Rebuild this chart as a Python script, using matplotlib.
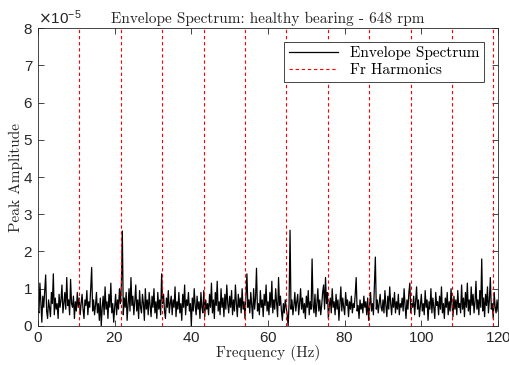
import numpy as np
import matplotlib
matplotlib.use("Agg")
import matplotlib.pyplot as plt

# envelope spectrum (units of 1e-5), 0.25 Hz steps from 0 Hz
df = 0.25
amp_rows = [
    [0.45,0.35,1.15,0.6,0.1,0.8,0.5,0.95,1.37,0.4,0.2,0.7,0.5,0.25,0.9,0.6,1.4,0.3,0.75,0.45],
    [0.6,0.2,0.85,0.5,0.7,1.1,0.35,0.6,0.9,0.45,1.3,0.55,0.7,0.3,1.25,0.6,0.5,0.8,0.2,0.65],
    [0.4,0.9,0.5,0.75,0.3,0.6,0.85,0.45,0.2,0.7,0.55,0.95,0.3,0.65,0.5,1.0,1.57,0.4,0.7,0.3],
    [0.55,0.9,0.35,0.6,0.15,0.75,0.0,0.5,0.8,0.3,1.05,0.45,0.65,0.2,0.85,0.5,1.15,0.35,0.6,0.1],
    [0.5,0.85,0.3,0.7,0.45,1.0,0.6,1.1,2.55,0.3,0.75,0.5,0.9,0.15,0.6,1.0,0.4,1.3,0.55,0.8],
    [0.3,0.65,1.1,0.4,0.7,0.2,0.95,0.5,0.35,0.85,0.6,0.15,1.0,0.45,0.7,0.3,0.9,0.55,0.25,0.8],
    [0.5,1.0,0.35,0.65,0.2,0.9,0.45,0.7,0.3,1.4,0.6,0.85,0.4,0.2,0.75,0.5,0.95,0.35,0.6,0.8],
    [0.3,0.7,0.5,1.05,0.25,0.65,0.45,0.9,0.35,0.6,0.15,0.85,0.5,1.1,0.3,0.7,0.55,0.9,0.4,0.6],
    [0.0,0.75,0.4,1.0,0.55,0.3,0.8,0.45,0.65,0.2,0.9,0.5,0.35,0.95,0.25,0.7,0.45,0.6,0.3,0.85],
    [0.5,1.15,0.35,0.7,0.2,0.9,0.55,1.2,0.4,0.65,0.3,1.0,0.5,0.75,0.25,0.85,0.45,1.1,0.6,0.35],
    [0.8,0.5,0.95,0.3,0.7,0.4,1.1,0.6,0.25,0.85,0.5,0.75,0.35,1.0,0.45,0.65,0.2,0.8,1.4,0.5],
    [0.7,0.35,0.9,0.55,0.2,1.0,0.45,0.75,1.55,0.4,0.6,0.3,0.95,0.5,0.7,0.25,0.85,0.55,1.1,0.4],
    [0.65,0.3,0.9,0.5,1.2,0.35,0.7,0.45,1.0,0.6,0.25,1.3,0.55,0.8,0.4,0.15,0.6,0.35,0.7,0.5],
    [0.3,0.0,0.6,2.57,0.45,0.7,0.3,0.55,0.9,0.4,0.65,0.85,0.3,0.6,1.0,0.45,0.75,0.35,0.6,0.2],
    [0.8,0.5,0.95,0.3,0.65,0.45,1.8,0.55,0.35,0.85,0.25,0.6,1.0,0.4,0.7,0.3,0.55,0.9,1.1,0.45],
    [1.3,0.6,0.9,0.2,0.55,0.75,0.35,1.0,0.5,0.65,0.3,0.85,0.45,0.7,0.15,0.6,1.05,0.4,0.75,0.5],
    [0.3,0.9,0.55,0.7,0.25,0.65,0.45,0.8,0.35,0.6,0.5,0.85,1.3,0.4,0.55,0.2,0.7,0.45,0.6,0.35],
    [0.8,0.5,0.65,0.3,0.75,0.15,0.55,0.9,0.4,0.6,0.3,1.1,1.85,0.45,0.7,0.35,0.6,0.85,0.5,0.4],
    [0.7,0.35,0.95,0.55,0.25,0.8,0.45,1.05,0.6,0.3,0.75,0.5,0.9,0.35,0.65,0.45,0.85,0.3,0.6,0.5],
    [0.75,0.4,1.0,0.55,0.2,0.7,0.45,0.9,1.15,0.35,0.6,0.5,0.8,0.3,0.65,1.05,0.45,0.7,0.25,0.55],
    [0.85,0.4,0.6,0.3,0.95,0.5,0.7,0.15,0.65,0.45,1.0,0.35,0.75,0.5,0.2,0.9,0.55,0.65,0.3,0.8],
    [0.45,1.05,0.35,0.6,0.2,0.75,0.5,0.9,0.3,0.65,0.4,1.0,0.55,0.25,0.8,0.45,0.7,0.3,0.95,0.5],
    [0.6,0.35,1.1,0.45,0.75,0.25,0.9,0.5,1.15,0.4,0.7,0.3,1.05,0.55,0.85,0.35,0.65,1.2,0.45,0.7],
    [0.3,0.95,0.5,1.8,0.4,0.75,0.25,0.85,0.55,1.05,0.35,0.7,1.3,0.45,0.6,0.2,0.9,0.5,0.35,0.7],
    [0.4],
]
rpm = 648
harmonics = [1, 2, 3, 4, 5, 6, 7, 8, 9, 10, 11]

amp = np.concatenate([np.array(r) for r in amp_rows]) * 1e-5
freq = np.arange(len(amp)) * df
fr = rpm / 60.0

plt.rcParams['axes.formatter.use_mathtext'] = True
plt.rcParams['font.family'] = ['Liberation Sans', 'DejaVu Sans']
serif = ['cmr10', 'DejaVu Serif']
gray = '#262626'

fig = plt.figure(figsize=(5.1, 3.65), dpi=100)
ax = fig.add_axes([0.0745, 0.107, 0.902, 0.816])

ax.plot(freq, amp, color='k', lw=0.9, label='Envelope Spectrum')
for i, h in enumerate(harmonics):
    ax.axvline(h * fr, color='r', ls=(0, (3, 2.5)), lw=0.8,
               label='Fr Harmonics' if i == 0 else None)

ax.set_xlim(0, 120)
ax.set_ylim(0, 8e-5)
ax.set_xticks(np.arange(0, 121, 20))
ax.set_yticks(np.arange(0, 9) * 1e-5)
ax.tick_params(direction='in', top=True, right=True, length=4, width=0.6,
               labelsize=11, colors=gray)
for s in ax.spines.values():
    s.set_color(gray)
    s.set_linewidth(0.6)
ax.yaxis.get_offset_text().set_fontsize(11)
ax.yaxis.get_offset_text().set_color(gray)

ax.set_title('Envelope Spectrum: healthy bearing - %d rpm' % rpm,
             family=serif, fontsize=11, color=gray, pad=4)
ax.set_xlabel('Frequency (Hz)', family=serif, fontsize=11, color=gray, labelpad=0)
ax.set_ylabel('Peak Amplitude', family=serif, fontsize=11, color=gray, labelpad=0)

leg = ax.legend(loc='upper right', prop={'family': serif, 'size': 11},
                fancybox=False, framealpha=1, edgecolor=gray,
                handlelength=3.2, borderaxespad=0.9, borderpad=0.3,
                labelspacing=0.2)
leg.get_frame().set_linewidth(0.6)

fig.savefig('out.png', dpi=100)
